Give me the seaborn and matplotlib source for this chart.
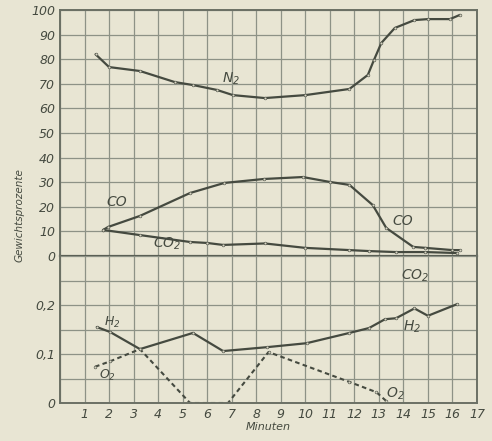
import matplotlib
matplotlib.use("Agg")
import matplotlib.pyplot as plt
import seaborn as sns
import pandas as pd

# ---- data ----
n2_x = [1.45, 2.0, 3.26, 4.68, 5.42, 6.4, 7.05, 8.35, 10.0, 11.8, 12.55, 12.8, 13.1, 13.65, 14.45, 15.0, 15.9, 16.3]
n2_y = [82.0, 76.8, 75.2, 70.7, 69.5, 67.5, 65.4, 64.2, 65.4, 67.9, 73.6, 79.7, 86.6, 92.7, 95.9, 96.3, 96.3, 98.0]

co_x = [1.76, 1.96, 3.26, 5.3, 6.7, 8.3, 9.9, 11.0, 11.8, 12.75, 13.3, 14.4, 14.9, 16.0, 16.3]
co_y = [10.6, 11.8, 16.3, 25.6, 29.7, 31.3, 32.1, 30.1, 28.9, 20.7, 11.4, 3.7, 3.3, 2.4, 2.4]

co2_x = [1.76, 3.26, 5.3, 6.0, 6.65, 8.35, 10.0, 11.8, 12.6, 13.7, 14.9, 16.2]
co2_y = [10.6, 8.5, 5.7, 5.3, 4.5, 5.1, 3.3, 2.4, 2.0, 1.6, 1.6, 1.2]

h2_x = [1.5, 2.04, 3.26, 5.42, 6.65, 8.45, 10.05, 11.8, 12.6, 13.25, 13.7, 14.45, 15.0, 16.2]
h2_y = [0.155, 0.145, 0.110, 0.143, 0.106, 0.114, 0.122, 0.143, 0.153, 0.171, 0.173, 0.193, 0.178, 0.202]

o2_x = [1.43, 2.04, 3.26, 5.3, 6.85, 8.5, 11.8, 12.9, 13.3]
o2_y = [0.074, 0.085, 0.110, 0.0, 0.0, 0.104, 0.043, 0.022, 0.004]

x_ticks = list(range(1, 18))
upper_ticks = [0, 10, 20, 30, 40, 50, 60, 70, 80, 90, 100]
upper_labels = ["0", "10", "20", "30", "40", "50", "60", "70", "80", "90", "100"]
lower_ticks = [0, 0.05, 0.1, 0.15, 0.2, 0.25, 0.3]
lower_labels = ["0", "", "0,1", "", "0,2", "", ""]

# ---- style ----
bg = "#e8e5d3"
ink = "#454a40"
gridc = "#8d9286"
sns.set_theme(style="white")
plt.rcParams["font.family"] = ["DejaVu Sans"]
plt.rcParams["font.style"] = "italic"

fig = plt.figure(figsize=(4.92, 4.41), dpi=100, facecolor=bg)
L, R = 60 / 492, 477 / 492
top = 1 - 10 / 441
mid = 1 - 256 / 441
bot = 1 - 403 / 441
ax1 = fig.add_axes([L, mid, R - L, top - mid])
ax2 = fig.add_axes([L, bot, R - L, mid - bot])

for ax in (ax1, ax2):
    ax.set_facecolor(bg)
    ax.set_xlim(0, 17)
    ax.set_xticks(range(0, 18))
    ax.grid(True, which="major", axis="x", color=gridc, lw=0.9)
    for s in ax.spines.values():
        s.set_color("#6b7065")
        s.set_linewidth(1.4)
    ax.tick_params(length=0, colors=ink, labelsize=9)

line_kw = dict(color=ink, marker="o", markersize=2.0,
               markerfacecolor="#d8d5c3", markeredgecolor=ink, markeredgewidth=0.4)

df_n2 = pd.DataFrame({"t": n2_x, "v": n2_y})
df_co = pd.DataFrame({"t": co_x, "v": co_y})
df_co2 = pd.DataFrame({"t": co2_x, "v": co2_y})
df_h2 = pd.DataFrame({"t": h2_x, "v": h2_y})
df_o2 = pd.DataFrame({"t": o2_x, "v": o2_y})

sns.lineplot(data=df_n2, x="t", y="v", ax=ax1, sort=False, lw=1.6, **line_kw)
sns.lineplot(data=df_co, x="t", y="v", ax=ax1, sort=False, lw=1.6, **line_kw)
sns.lineplot(data=df_co2, x="t", y="v", ax=ax1, sort=False, lw=1.6, **line_kw)
sns.lineplot(data=df_h2, x="t", y="v", ax=ax2, sort=False, lw=1.6, **line_kw)
sns.lineplot(data=df_o2, x="t", y="v", ax=ax2, sort=False, lw=1.5,
             linestyle=(0, (2.2, 1.6)), **line_kw)

# upper panel
ax1.set_ylim(0, 100)
ax1.set_yticks(upper_ticks)
ax1.set_yticklabels(upper_labels)
ax1.grid(True, axis="y", color=gridc, lw=0.9)
ax1.set_xticklabels([])
ax1.set_xlabel("")
ax1.set_ylabel("")
ax1.spines["bottom"].set_color("#5a5f55")
ax1.spines["bottom"].set_linewidth(1.6)

# lower panel
ax2.set_ylim(0, 0.3)
ax2.set_yticks(lower_ticks)
ax2.set_yticklabels(lower_labels)
ax2.grid(True, axis="y", color=gridc, lw=0.9)
ax2.spines["top"].set_visible(False)
ax2.set_xticklabels([""] + [str(t) for t in x_ticks])
ax2.set_xlabel("Minuten", fontsize=8, color=ink, labelpad=1)
ax2.set_ylabel("")

# curve labels
tk = dict(color=ink, fontsize=10, style="italic")
ax1.text(6.6, 70.5, "N$_2$", **tk)
ax1.text(1.9, 20.5, "CO", **tk)
ax1.text(13.55, 12.5, "CO", **tk)
ax1.text(3.8, 3.5, "CO$_2$", **tk)
ax2.text(13.9, 0.252, "CO$_2$", **tk)
ax2.text(1.8, 0.158, "H$_2$", fontsize=9, color=ink, style="italic")
ax2.text(14.0, 0.147, "H$_2$", **tk)
ax2.text(1.6, 0.050, "O$_2$", fontsize=9, color=ink, style="italic")
ax2.text(13.3, 0.012, "O$_2$", **tk)

fig.text(0.04, 1 - 215 / 441, "Gewichtsprozente", rotation=90, ha="center", va="center",
         fontsize=7.5, color=ink, style="italic")

fig.savefig("out.png", dpi=100, facecolor=bg)
